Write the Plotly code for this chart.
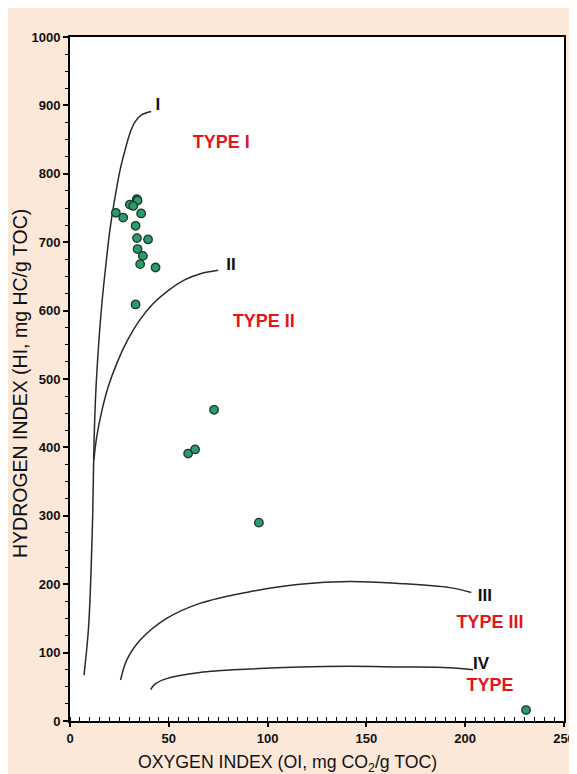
import plotly.graph_objects as go

# Sample data (Oxygen index vs Hydrogen index)
oi = [33.8, 30.3, 34.2, 32.0, 23.2, 26.9, 36.0, 33.2, 33.9, 39.5, 34.2, 36.9, 35.5, 43.3, 33.2,
      72.9, 59.8, 63.3, 95.6, 230.8]
hi = [763, 755, 761, 753, 743, 736, 742, 724, 706, 704, 690, 680, 668, 663, 609,
      455, 391, 397, 290, 16]

# Kerogen type evolution curves
c1_x = [7.1, 9.3, 10.5, 11.5, 12.1, 13.1, 14.3, 16.0, 17.7, 20.2, 22.8, 25.3, 27.8, 30.3, 32.9, 36.2, 41.1]
c1_y = [67, 133, 206, 304, 401, 484, 542, 606, 655, 718, 766, 805, 834, 859, 876, 886, 891]
c2_x = [12.1, 13.5, 16.0, 19.5, 24.0, 29.0, 35.0, 42.0, 50.0, 58.0, 66.0, 75.0]
c2_y = [382, 415, 452, 490, 525, 556, 585, 610, 630, 645, 654, 659]
c3_x = [25.6, 28.7, 35.4, 48.9, 65.7, 91.0, 116.3, 141.6, 166.9, 192.1, 203.1]
c3_y = [60, 89, 118, 150, 172, 189, 200, 204, 201, 195, 188]
c4_x = [40.8, 43.0, 48.9, 65.7, 91.0, 116.3, 141.6, 166.9, 192.1, 204.0]
c4_y = [46, 54, 62, 71, 76, 79, 80, 79, 78, 75]

curve_labels = ["I", "II", "III", "IV"]
curve_label_x = [44.5, 81.5, 210, 208]
curve_label_y = [899, 665, 181, 82]
type_labels = ["TYPE I", "TYPE II", "TYPE III", "TYPE"]
type_label_x = [76.5, 98, 212.5, 212.5]
type_label_y = [845, 583, 143, 50]

x_title = "OXYGEN INDEX (OI, mg CO<sub>2</sub>/g TOC)"
y_title = "HYDROGEN INDEX (HI, mg HC/g TOC)"

fig = go.Figure()
for cx, cy in [(c1_x, c1_y), (c2_x, c2_y), (c3_x, c3_y), (c4_x, c4_y)]:
    fig.add_trace(go.Scatter(x=cx, y=cy, mode="lines",
                             line=dict(color="#2a2a2a", width=1.5, shape="spline", smoothing=1.0),
                             hoverinfo="skip", showlegend=False))

fig.add_trace(go.Scatter(x=oi, y=hi, mode="markers",
                         marker=dict(size=8.5, color="#2e9a6c", line=dict(color="#1a3a2a", width=1.3)),
                         showlegend=False))

fig.add_trace(go.Scatter(x=curve_label_x, y=curve_label_y, mode="text",
                         text=["<b>%s</b>" % t for t in curve_labels],
                         textfont=dict(family="Liberation Sans Narrow, Liberation Sans, Arial", size=17, color="#111111"),
                         showlegend=False, hoverinfo="skip"))
fig.add_trace(go.Scatter(x=type_label_x, y=type_label_y, mode="text",
                         text=["<b>%s</b>" % t for t in type_labels],
                         textfont=dict(family="Liberation Sans, Arial", size=18, color="#e3161c"),
                         showlegend=False, hoverinfo="skip"))

# Page has an 8px body margin: figure is 569x766, plot area spans 494x684 px.
L, T, PW, PH = 62, 29, 494, 684
fig.add_shape(type="rect", xref="paper", yref="paper",
              x0=(-3 - L) / PW, x1=(564 - L) / PW, y0=-(790 - (T + PH)) / PH, y1=(T + PH + 2) / PH,
              fillcolor="#fce8d9", line=dict(color="#222222", width=1.5), layer="below")
fig.add_shape(type="rect", xref="paper", yref="paper", x0=0, x1=1, y0=0, y1=1,
              fillcolor="white", line=dict(width=0), layer="below")

# Axis titles as annotations (figure px -> paper)
fig.add_annotation(text=x_title, xref="paper", yref="paper",
                   x=(279 - L) / PW, y=(T + PH - 755) / PH, xanchor="center", yanchor="middle",
                   showarrow=False, font=dict(family="Liberation Sans, Arial", size=17.7, color="#111111"))
fig.add_annotation(text=y_title, xref="paper", yref="paper", textangle=-90,
                   x=(12 - L) / PW, y=(T + PH - 376) / PH, xanchor="center", yanchor="middle",
                   showarrow=False, font=dict(family="Liberation Sans, Arial", size=19.5, color="#111111"))

fig.update_layout(
    width=569, height=766,
    margin=dict(l=L, r=569 - L - PW, t=T, b=766 - T - PH),
    paper_bgcolor="white", plot_bgcolor="white",
    font=dict(family="Liberation Sans, Arial", color="#111111"),
    xaxis=dict(range=[0, 250], dtick=50, showgrid=False, zeroline=False, automargin=False,
               showline=True, linecolor="black", linewidth=2, mirror=True,
               ticks="outside", ticklen=4, tickwidth=1.5, tickcolor="black",
               minor=dict(dtick=5, ticks="inside", ticklen=4, tickcolor="black", tickwidth=1, showgrid=False),
               tickfont=dict(family="Liberation Sans, Arial", size=13, weight="bold")),
    yaxis=dict(range=[0, 1000], dtick=100, showgrid=False, zeroline=False, automargin=False,
               showline=True, linecolor="black", linewidth=2, mirror=True,
               ticks="outside", ticklen=5, tickwidth=1.5, tickcolor="black",
               minor=dict(dtick=25, ticks="outside", ticklen=3, tickcolor="black", tickwidth=1, showgrid=False),
               tickfont=dict(family="Liberation Sans, Arial", size=13, weight="bold")),
)

fig.write_html("out.html")
